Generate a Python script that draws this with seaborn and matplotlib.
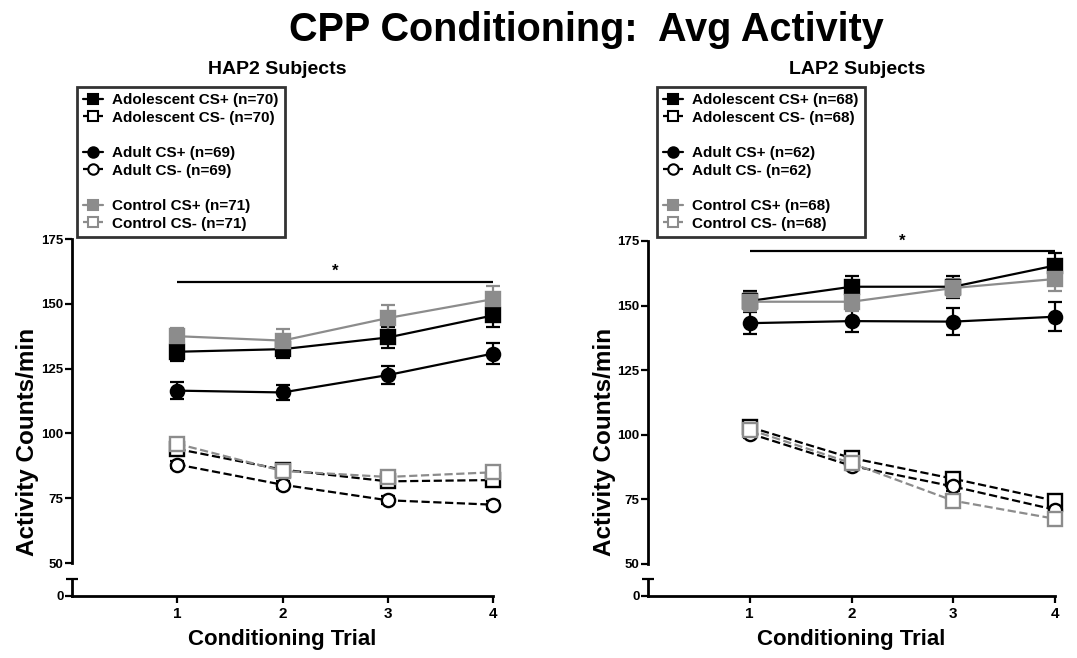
import matplotlib
matplotlib.use("Agg")
import matplotlib.pyplot as plt
import seaborn as sns
import pandas as pd
from matplotlib.lines import Line2D

# ---------------- data ----------------
trials = [1, 2, 3, 4]
series_names = ["Adolescent CS+", "Adolescent CS-", "Adult CS+", "Adult CS-",
                "Control CS+", "Control CS-"]
hap_n = [70, 70, 69, 69, 71, 71]
lap_n = [68, 68, 62, 62, 68, 68]

# HAP2 subjects
hap_adol_plus = [131.5, 132.5, 137.0, 145.5]
hap_adol_plus_err = [3.5, 3.5, 4.0, 4.5]
hap_adol_minus = [94.0, 86.0, 81.5, 82.0]
hap_adol_minus_err = [1.5, 1.5, 1.5, 1.5]
hap_adult_plus = [116.5, 115.8, 122.5, 130.8]
hap_adult_plus_err = [3.2, 3.0, 3.5, 4.0]
hap_adult_minus = [88.0, 80.2, 74.2, 72.5]
hap_adult_minus_err = [1.5, 1.5, 1.5, 1.5]
hap_ctrl_plus = [137.5, 135.8, 144.5, 151.8]
hap_ctrl_plus_err = [3.3, 4.6, 4.9, 5.1]
hap_ctrl_minus = [96.0, 85.5, 83.2, 85.0]
hap_ctrl_minus_err = [1.5, 1.5, 1.5, 1.5]

# LAP2 subjects
lap_adol_plus = [151.8, 157.3, 157.3, 165.5]
lap_adol_plus_err = [3.9, 4.2, 4.2, 4.7]
lap_adol_minus = [103.0, 91.0, 83.0, 74.5]
lap_adol_minus_err = [1.8, 1.8, 1.8, 2.0]
lap_adult_plus = [143.2, 144.0, 143.8, 145.7]
lap_adult_plus_err = [4.2, 4.4, 5.2, 5.6]
lap_adult_minus = [100.5, 88.0, 80.0, 71.0]
lap_adult_minus_err = [1.8, 1.8, 1.8, 2.0]
lap_ctrl_plus = [151.5, 151.5, 156.8, 160.3]
lap_ctrl_plus_err = [3.5, 3.5, 3.5, 4.5]
lap_ctrl_minus = [102.0, 89.0, 74.5, 67.5]
lap_ctrl_minus_err = [1.8, 1.8, 1.8, 2.5]

hap_sig_y = 158.5
lap_sig_y = 171.0
sig_star_x = 2.5
y_ticks = [50, 75, 100, 125, 150, 175]

# ---------------- style ----------------
sns.set_style("ticks")
plt.rcParams["font.family"] = ["Liberation Sans", "DejaVu Sans"]
plt.rcParams["font.weight"] = "bold"
for k in ["text.color", "axes.labelcolor", "xtick.color", "ytick.color",
          "axes.edgecolor"]:
    plt.rcParams[k] = "black"

GRAY = "#8c8c8c"
styles = [
    dict(color="black", marker="s", fill=True, ls="-"),
    dict(color="black", marker="s", fill=False, ls="--"),
    dict(color="black", marker="o", fill=True, ls="-"),
    dict(color="black", marker="o", fill=False, ls="--"),
    dict(color=GRAY, marker="s", fill=True, ls="-"),
    dict(color=GRAY, marker="s", fill=False, ls="--"),
]

W, H = 1077, 658
fig = plt.figure(figsize=(W / 100, H / 100), dpi=100)


def fx(px):
    return px / W


def fy(py):
    return 1 - py / H


def make_panel(left_px, right_px, top_px, y50_px, brk_px, y0_px,
               values, errs, ns, sig_y, title, title_x, legend_x):
    l = fx(left_px)
    w = fx(right_px - left_px)
    ax = fig.add_axes([l, fy(y50_px), w, (y50_px - top_px) / H])
    axb = fig.add_axes([l, fy(y0_px), w, (y0_px - brk_px) / H])

    # error bars first (behind markers)
    for vals, err, st in zip(values, errs, styles):
        eb = ax.errorbar(trials, vals, yerr=err, fmt="none", ecolor=st["color"],
                         elinewidth=1.6, capsize=5, capthick=1.6, zorder=2)
        for art in eb.lines[1]:
            art.set_clip_on(False)
        for art in eb.lines[2]:
            art.set_clip_on(False)
    for vals, st in zip(values, styles):
        df = pd.DataFrame({"trial": trials, "value": vals})
        sns.lineplot(data=df, x="trial", y="value", ax=ax, errorbar=None,
                     color=st["color"], linestyle=st["ls"], linewidth=1.6,
                     marker=st["marker"], markersize=9.5,
                     markerfacecolor=st["color"] if st["fill"] else "white",
                     markeredgecolor=st["color"], markeredgewidth=1.7,
                     zorder=3, legend=False, clip_on=False)

    # significance bar
    ax.hlines(sig_y, trials[0], trials[-1], color="black", lw=1.6,
              clip_on=False)
    ax.text(sig_star_x, sig_y + 1.0, "*", ha="center", va="bottom",
            fontsize=12, fontweight="bold")

    ax.set_xlim(0, 4)
    ax.set_ylim(50, 175)
    ax.set_yticks(y_ticks)
    ax.set_xticks([])
    ax.set_xlabel("")
    ax.set_ylabel("")
    for s in ["top", "right", "bottom"]:
        ax.spines[s].set_visible(False)
    ax.spines["left"].set_linewidth(2)
    ax.spines["left"].set_bounds(50, 175)
    ax.tick_params(axis="y", direction="out", length=5, width=1.6,
                   labelsize=9.5, pad=1)
    ax.patch.set_alpha(0)

    axb.set_xlim(0, 4)
    axb.set_ylim(0, 1)
    axb.set_yticks([0])
    axb.set_yticklabels(["0"])
    axb.set_yticks([1], minor=True)
    axb.tick_params(axis="y", which="major", direction="out", length=5,
                    width=1.6, labelsize=9.5, pad=1)
    axb.tick_params(axis="y", which="minor", direction="inout", length=8,
                    width=1.6)
    axb.set_xticks(trials)
    axb.set_xticklabels([str(t) for t in trials])
    axb.tick_params(axis="x", direction="out", length=5, width=1.6,
                    labelsize=11, pad=3)
    for s in ["top", "right"]:
        axb.spines[s].set_visible(False)
    axb.spines["left"].set_linewidth(2)
    axb.spines["bottom"].set_linewidth(2)
    axb.patch.set_alpha(0)

    # labels
    fig.text(fx((left_px + right_px) / 2), fy(640), "Conditioning Trial",
             ha="center", va="center", fontsize=16, fontweight="bold")
    fig.text(fx(left_px - 44), fy(442), "Activity Counts/min", rotation=90,
             ha="center", va="center", fontsize=17.5, fontweight="bold")
    fig.text(fx(title_x), fy(70), title, ha="center", va="center",
             fontsize=14, fontweight="bold")

    # legend
    handles, labels = [], []
    for i, (name, st, n) in enumerate(zip(series_names, styles, ns)):
        if i in (2, 4):
            handles.append(Line2D([], [], linestyle="none"))
            labels.append("")
        handles.append(Line2D([], [], color=st["color"], linestyle=st["ls"],
                              linewidth=1.6, marker=st["marker"], markersize=7.5,
                              markerfacecolor=st["color"] if st["fill"] else "white",
                              markeredgecolor=st["color"], markeredgewidth=1.5))
        labels.append(f"{name} (n={n})")
    leg = fig.legend(handles, labels, loc="upper left",
                     bbox_to_anchor=(fx(legend_x), fy(87)), borderaxespad=0,
                     frameon=True, fancybox=False, edgecolor="black",
                     prop={"weight": "bold", "size": 11}, handlelength=1.3,
                     handletextpad=0.6, labelspacing=0.24, borderpad=0.4)
    leg.get_frame().set_linewidth(2)


hap_values = [hap_adol_plus, hap_adol_minus, hap_adult_plus, hap_adult_minus,
              hap_ctrl_plus, hap_ctrl_minus]
hap_errs = [hap_adol_plus_err, hap_adol_minus_err, hap_adult_plus_err,
            hap_adult_minus_err, hap_ctrl_plus_err, hap_ctrl_minus_err]
lap_values = [lap_adol_plus, lap_adol_minus, lap_adult_plus, lap_adult_minus,
              lap_ctrl_plus, lap_ctrl_minus]
lap_errs = [lap_adol_plus_err, lap_adol_minus_err, lap_adult_plus_err,
            lap_adult_minus_err, lap_ctrl_plus_err, lap_ctrl_minus_err]

make_panel(72, 493, 239, 563, 579, 596, hap_values, hap_errs, hap_n,
           hap_sig_y, "HAP2 Subjects", 277, 77)
make_panel(648, 1055, 241, 564, 579, 596, lap_values, lap_errs, lap_n,
           lap_sig_y, "LAP2 Subjects", 857, 657)

fig.text(fx(586), fy(30), "CPP Conditioning:  Avg Activity", ha="center",
         va="center", fontsize=28.5, fontweight="bold")

fig.savefig("out.png", dpi=100)
